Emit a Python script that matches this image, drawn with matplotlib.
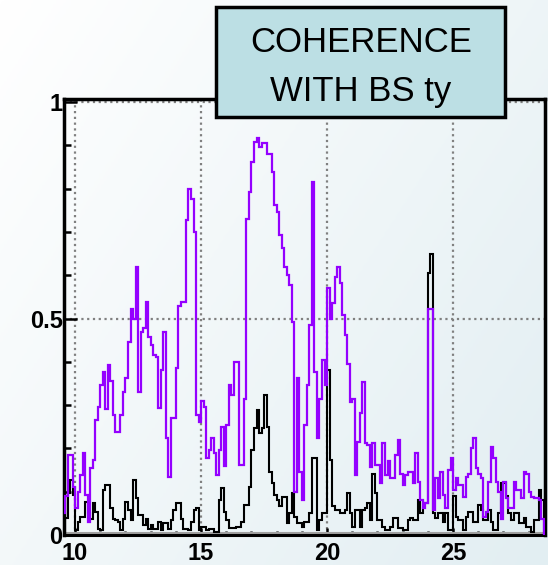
import numpy as np
import matplotlib
matplotlib.use('Agg')
import matplotlib.pyplot as plt
from matplotlib.patches import Rectangle
from matplotlib.colors import LinearSegmentedColormap

# histogram bins (Hz), width 0.1 starting at 9.5
bin_start = 9.5
bin_width = 0.1

# coherence with BS ty (purple trace)
purple_coh = [
    0.05, 0.09, 0.185, 0.185, 0.11,
    0.062, 0.10, 0.139, 0.189, 0.092, 0.031, 0.154, 0.173, 0.266, 0.296,
    0.346, 0.377, 0.29, 0.393, 0.355, 0.277, 0.239, 0.239, 0.277, 0.331,
    0.362, 0.446, 0.523, 0.50, 0.62, 0.331, 0.47, 0.477, 0.539, 0.458,
    0.439, 0.416, 0.41, 0.293, 0.38, 0.47, 0.224, 0.135, 0.27, 0.27,
    0.385, 0.53, 0.539, 0.539, 0.727, 0.80, 0.777, 0.70, 0.277, 0.26,
    0.31, 0.296, 0.177, 0.196, 0.223, 0.19, 0.138, 0.196, 0.25, 0.16,
    0.254, 0.346, 0.323, 0.40, 0.40, 0.161, 0.161, 0.315, 0.73, 0.793,
    0.862, 0.908, 0.916, 0.897, 0.905, 0.905, 0.881, 0.881, 0.839, 0.762,
    0.747, 0.693, 0.662, 0.62, 0.60, 0.577, 0.492, 0.10, 0.362, 0.146,
    0.08, 0.254, 0.346, 0.485, 0.816, 0.377, 0.223, 0.315, 0.404, 0.346,
    0.57, 0.50, 0.535, 0.597, 0.62, 0.581, 0.508, 0.462, 0.396, 0.308,
    0.315, 0.138, 0.215, 0.281, 0.354, 0.212, 0.208, 0.158, 0.212, 0.161,
    0.161, 0.119, 0.212, 0.138, 0.17, 0.131, 0.131, 0.185, 0.219, 0.142,
    0.115, 0.138, 0.146, 0.146, 0.119, 0.189, 0.123, 0.08, 0.062, 0.073,
    0.523, 0.523, 0.058, 0.131, 0.085, 0.146, 0.092, 0.062, 0.15, 0.177,
    0.104, 0.131, 0.115, 0.115, 0.088, 0.135, 0.142, 0.20, 0.223, 0.154,
    0.142, 0.131, 0.042, 0.054, 0.123, 0.204, 0.177, 0.123, 0.10, 0.038,
    0.123, 0.085, 0.062, 0.062, 0.123, 0.104, 0.104, 0.085, 0.146, 0.142,
    0.10, 0.088, 0.085, 0.085, 0.08, 0.038,
]

# second channel (black trace)
black_coh = [
    0.046, 0.04, 0.096, 0.127, 0.092,
    0.012, 0.031, 0.042, 0.042, 0.077, 0.05, 0.038, 0.073, 0.054, 0.015,
    0.012, 0.104, 0.115, 0.115, 0.062, 0.038, 0.034, 0.031, 0.012, 0.038,
    0.077, 0.058, 0.034, 0.127, 0.085, 0.046, 0.046, 0.023, 0.038, 0.015,
    0.023, 0.015, 0.015, 0.031, 0.012, 0.027, 0.027, 0.015, 0.034, 0.058,
    0.073, 0.073, 0.038, 0.015, 0.015, 0.012, 0.031, 0.058, 0.062, 0.012,
    0.019, 0.019, 0.012, 0.015, 0.015, 0.008, 0.008, 0.08, 0.108, 0.054,
    0.035, 0.016, 0.016, 0.016, 0.019, 0.019, 0.03, 0.07, 0.07, 0.111,
    0.196, 0.246, 0.289, 0.235, 0.246, 0.323, 0.25, 0.146, 0.12, 0.093,
    0.08, 0.066, 0.088, 0.088, 0.027, 0.05, 0.096, 0.042, 0.027, 0.027,
    0.019, 0.031, 0.031, 0.05, 0.177, 0.177, 0.012, 0.035, 0.05, 0.05,
    0.381, 0.173, 0.066, 0.058, 0.058, 0.05, 0.05, 0.058, 0.096, 0.05,
    0.019, 0.058, 0.058, 0.019, 0.058, 0.062, 0.073, 0.035, 0.142, 0.096,
    0.035, 0.035, 0.019, 0.012, 0.012, 0.019, 0.039, 0.039, 0.016, 0.016,
    0.012, 0.012, 0.035, 0.039, 0.035, 0.035, 0.081, 0.05, 0.073, 0.073,
    0.604, 0.65, 0.05, 0.039, 0.05, 0.05, 0.031, 0.05, 0.012, 0.012,
    0.089, 0.042, 0.035, 0.035, 0.012, 0.042, 0.054, 0.054, 0.031, 0.031,
    0.069, 0.058, 0.035, 0.035, 0.058, 0.031, 0.012, 0.012, 0.05, 0.12,
    0.12, 0.089, 0.05, 0.035, 0.05, 0.05, 0.027, 0.027, 0.039, 0.019,
    0.019, 0.008, 0.035, 0.035, 0.104, 0.081,
]

x_ticks = [10, 15, 20, 25]
x_labels = ['10', '15', '20', '25']
y_ticks = [0, 0.5, 1]
y_labels = ['0', '0.5', '1']

edges = bin_start + bin_width * np.arange(len(purple_coh) + 1)

fig = plt.figure(figsize=(5.48, 5.65), dpi=100)

# soft bluish gradient background
bg = fig.add_axes([0, 0, 1, 1], zorder=-10)
gx, gy = np.meshgrid(np.linspace(0, 1, 200), np.linspace(0, 1, 200))
grad = 0.6 * gx + 0.4 * gy
cmap = LinearSegmentedColormap.from_list('bg', ['#ffffff', '#e2eef2'])
bg.imshow(grad, cmap=cmap, aspect='auto', extent=[0, 1, 0, 1], origin='upper')
bg.axis('off')

ax = fig.add_axes([64 / 548, 30 / 565, 481 / 548, 436 / 565])
ax.set_facecolor('none')

ax.stairs(black_coh, edges, color='black', lw=1.5, zorder=3)
ax.stairs(purple_coh, edges, color='#9400ff', lw=1.6, zorder=4)
ax.axhline(0.004, color='#a0a0a0', lw=1.5, zorder=2)

ax.set_xlim(9.56, 28.65)
ax.set_ylim(0, 1.007)

# dotted grid
for xv in x_ticks:
    ax.axvline(xv, color='#808080', lw=1.6, ls=(0, (1, 1.6)), zorder=1)
for yv in [0.5, 1.0]:
    ax.axhline(yv, color='#808080', lw=1.6, ls=(0, (1, 1.6)), zorder=1)

ax.set_xticks(x_ticks)
ax.set_xticklabels(x_labels)
ax.set_xticks(np.arange(10, 29, 1), minor=True)
ax.set_yticks(y_ticks)
ax.set_yticklabels(y_labels)
ax.set_yticks(np.arange(0, 1.01, 0.1), minor=True)

ax.tick_params(axis='both', which='both', direction='in', width=1.8, color='black')
ax.tick_params(axis='y', which='major', length=9, pad=1, labelsize=17)
ax.tick_params(axis='y', which='minor', length=5)
ax.tick_params(axis='x', which='major', length=5, pad=5, labelsize=17)
ax.tick_params(axis='x', which='minor', length=3)
for lbl in ax.get_xticklabels() + ax.get_yticklabels():
    lbl.set_fontweight('bold')
    lbl.set_fontfamily('Liberation Sans')

for s in ['left', 'top', 'right']:
    ax.spines[s].set_linewidth(2.5)
ax.spines['bottom'].set_linewidth(2.2)

# title box
box = Rectangle((216 / 548, 448 / 565), 289 / 548, 110 / 565, transform=fig.transFigure,
                facecolor='#bcdfe4', edgecolor='black', lw=2.5, zorder=10)
fig.add_artist(box)
fig.text(361 / 548, 1 - 43 / 565, 'COHERENCE', ha='center', va='center', fontsize=25,
         family='Liberation Sans', color='black', zorder=11)
fig.text(361 / 548, 1 - 92 / 565, 'WITH BS ty', ha='center', va='center', fontsize=25,
         family='Liberation Sans', color='black', zorder=11)

fig.savefig('out.png', dpi=100)
